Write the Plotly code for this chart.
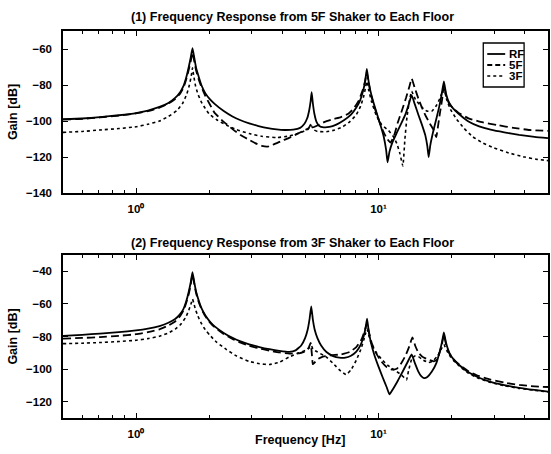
import plotly.graph_objects as go

# ---- (1) 5F shaker -> each floor : frequency [Hz], gain [dB] ----
f_rf_1 = [0.5, 0.6, 0.71, 0.85, 1.0, 1.12, 1.25, 1.36, 1.45, 1.52, 1.57, 1.61, 1.65, 1.68, 1.71, 1.74,
          1.77, 1.81, 1.86, 1.93, 2.02, 2.11, 2.3, 2.5, 2.7, 2.93, 3.2, 3.5, 3.8, 4.1, 4.45, 4.75,
          4.95, 5.08, 5.18, 5.25, 5.3, 5.36, 5.44, 5.55, 5.7, 5.95, 6.27, 6.7, 7.2, 7.7, 8.1, 8.4,
          8.65, 8.82, 8.95, 9.08, 9.25, 9.5, 9.85, 10.2, 10.5, 10.75, 10.9, 11.1, 11.4, 11.9, 12.4, 12.9,
          13.35, 13.7, 14.1, 14.6, 15.1, 15.6, 15.9, 16.1, 16.35, 16.8, 17.3, 17.8, 18.2, 18.6, 19.0, 19.5,
          20.3, 21.4, 23.5, 26, 29, 33, 38, 44, 50]
g_rf_1 = [-99, -98.6, -97.8, -96.8, -95.6, -94.2, -92.2, -90, -87.2, -84, -80.5, -76, -70, -65, -59.5, -65,
          -70.5, -75, -80, -84.5, -88, -90.5, -94.5, -97.5, -99.6, -101.3, -102.8, -104, -104.7, -105, -104.8, -103.8,
          -101.5, -98.5, -94, -89, -84, -90, -96, -100.5, -102.8, -103.5, -103.3, -102, -99.6, -96.5, -92.5, -88.5,
          -83, -77.5, -71, -77, -83, -89, -96, -102.5, -108.5, -116, -123, -117, -112, -106.5, -101.5, -96.5,
          -90.5, -85.6, -90.5, -96.5, -102, -108, -114, -120, -113.5, -106, -99, -92, -85.5, -78, -85, -89.5,
          -93, -96, -100.3, -103, -104.8, -106.3, -107.7, -108.8, -109.5]

f_5f_1 = [0.5, 0.6, 0.71, 0.85, 1.0, 1.12, 1.25, 1.36, 1.45, 1.52, 1.57, 1.61, 1.65, 1.68, 1.71, 1.74,
          1.77, 1.81, 1.86, 1.93, 2.02, 2.11, 2.3, 2.5, 2.7, 2.93, 3.1, 3.3, 3.5, 3.7, 4.0, 4.3,
          4.6, 4.9, 5.15, 5.28, 5.36, 5.6, 6.0, 6.5, 7.0, 7.5, 7.9, 8.3, 8.6, 8.8, 8.95, 9.1,
          9.3, 9.6, 10.0, 10.4, 10.8, 11.2, 11.6, 12.0, 12.5, 13.0, 13.4, 13.7, 14.1, 14.6, 15.1, 15.7,
          16.3, 16.9, 17.3, 17.55, 17.9, 18.3, 18.6, 19.0, 19.5, 20.3, 21.4, 23.5, 27, 31, 36, 42,
          50]
g_5f_1 = [-99.2, -98.8, -98, -97, -95.8, -94.5, -92.6, -90.3, -87.8, -84.8, -81.5, -77, -71.5, -67, -62, -67,
          -72, -76.5, -81, -86, -91, -95.5, -100.5, -104.5, -107.8, -110.5, -112.3, -113.8, -114.2, -113, -111, -109.2,
          -107.3, -105.5, -104, -101.5, -103.5, -102.5, -100.5, -99, -97.8, -96, -93, -88.5, -83, -78, -73, -78.5,
          -85, -92, -99, -105, -109.5, -112, -108, -101, -94, -87, -81, -76.5, -81.5, -87.5, -92.5, -97.5,
          -101.5, -105, -109, -104, -96, -88, -80, -86, -90, -93, -95.5, -98.5, -100.8, -102.3, -103.8, -105,
          -105.5]

f_3f_1 = [0.5, 0.6, 0.71, 0.85, 1.0, 1.12, 1.25, 1.36, 1.48, 1.56, 1.62, 1.66, 1.69, 1.71, 1.73, 1.76,
          1.8, 1.86, 1.93, 2.01, 2.15, 2.36, 2.6, 2.93, 3.3, 3.79, 4.3, 4.8, 5.12, 5.28, 5.4, 5.6,
          6.1, 6.6, 7.1, 7.6, 8.1, 8.45, 8.7, 8.85, 8.95, 9.1, 9.35, 9.8, 10.3, 11.0, 11.5, 11.9,
          12.25, 12.6, 12.85, 13.1, 13.4, 13.7, 14.2, 15.0, 15.8, 16.6, 17.3, 17.9, 18.6, 19.1, 19.8, 21,
          22.5, 24.5, 27, 30, 34, 40, 45, 50]
g_3f_1 = [-106.3, -105.8, -105, -104.2, -103.2, -101.8, -100, -97.5, -94, -90, -85, -80, -75, -70.5, -75, -80.5,
          -85, -89.5, -93, -96.3, -99.3, -102.3, -104.8, -107, -108.5, -109.2, -108.3, -106.3, -104.6, -102.5, -104.8, -105.8,
          -106, -105, -103.3, -100.5, -96.5, -91.5, -86, -81, -78, -82.5, -89, -97, -102, -105.3, -108.5, -112.5,
          -118, -125, -110, -98, -89, -83.5, -88, -92, -94.5, -94.5, -91.5, -87.5, -82, -88, -93.5, -99,
          -104, -108.8, -112.3, -115, -117.5, -120, -121.3, -122]

# ---- (2) 3F shaker -> each floor ----
f_rf_2 = [0.5, 0.6, 0.71, 0.85, 1.0, 1.12, 1.25, 1.36, 1.45, 1.52, 1.57, 1.61, 1.65, 1.68, 1.71, 1.74,
          1.77, 1.81, 1.86, 1.93, 2.02, 2.11, 2.3, 2.5, 2.7, 2.93, 3.2, 3.55, 3.9, 4.29, 4.55, 4.8,
          4.98, 5.1, 5.2, 5.28, 5.36, 5.45, 5.6, 5.8, 6.1, 6.5, 6.9, 7.3, 7.7, 8.1, 8.45, 8.7,
          8.85, 8.97, 9.1, 9.3, 9.6, 10.0, 10.4, 10.8, 11.1, 11.5, 12.0, 12.6, 13.2, 13.7, 14.1, 14.6,
          15.0, 15.4, 15.9, 16.6, 17.3, 17.9, 18.3, 18.6, 19.0, 19.6, 20.4, 21.5, 23.5, 26, 29, 33,
          38, 44, 50]
g_rf_2 = [-79.6, -79, -78.2, -77.3, -76.3, -75.2, -73.6, -71.6, -69.3, -66.3, -63, -58.5, -52.5, -47, -40.5, -47,
          -52.5, -57.5, -62.5, -67, -71, -73.8, -77.8, -80.8, -83, -84.8, -86.3, -87.8, -88.8, -89.4, -88.5, -85.5,
          -81, -76, -69, -61.5, -69.5, -75.5, -81, -85.5, -89.5, -92, -93, -93, -91.8, -89.3, -85, -79.5,
          -74.5, -69, -76, -83.5, -91, -98.5, -105, -111, -115.5, -112, -107.3, -101.3, -95.5, -91, -96, -101.5,
          -104.3, -105.5, -104.8, -101.5, -96.5, -89, -83, -77.5, -84, -90, -94, -97.5, -102, -105.3, -107.8, -109.8,
          -111.5, -112.8, -113.8]

f_5f_2 = [0.5, 0.6, 0.71, 0.85, 1.0, 1.12, 1.25, 1.36, 1.45, 1.52, 1.57, 1.61, 1.65, 1.68, 1.71, 1.74,
          1.77, 1.81, 1.86, 1.93, 2.02, 2.11, 2.3, 2.5, 2.7, 2.93, 3.2, 3.55, 3.9, 4.29, 4.7, 5.0,
          5.15, 5.25, 5.32, 5.36, 5.45, 5.6, 5.9, 6.4, 7.0, 7.6, 8.1, 8.5, 8.75, 8.97, 9.15, 9.4,
          9.8, 10.3, 10.8, 11.4, 11.9, 12.4, 12.9, 13.4, 13.8, 14.2, 14.6, 15.2, 16.1, 16.9, 17.5, 17.9,
          18.3, 18.6, 19.0, 19.6, 20.4, 21.5, 23.5, 26, 29, 33, 38, 44, 50]
g_5f_2 = [-81.3, -80.9, -80.4, -79.6, -78.6, -77.3, -75.6, -73.3, -70.8, -67.5, -64, -59.5, -54, -48.5, -42, -48,
          -53.5, -58.5, -63, -67.5, -71.5, -74.3, -78.5, -81.5, -83.8, -85.7, -87.2, -88.7, -89.8, -90.5, -90.3, -89,
          -87, -84, -92, -97, -96, -94, -92.3, -91.5, -91, -89.5, -86.5, -82, -77, -72, -78, -84.5,
          -90.5, -95.5, -98.7, -100.3, -99.8, -96.5, -92, -86, -80.5, -86, -89.8, -92.5, -94.3, -95.2, -94, -89.5,
          -84, -79, -85, -90.5, -94, -97.2, -101.3, -104.3, -106.5, -108.3, -109.7, -110.6, -111]

f_3f_2 = [0.5, 0.6, 0.71, 0.85, 1.0, 1.12, 1.25, 1.36, 1.45, 1.53, 1.6, 1.65, 1.69, 1.71, 1.73, 1.76,
          1.8, 1.86, 1.93, 2.01, 2.15, 2.36, 2.6, 2.93, 3.23, 3.55, 3.9, 4.29, 4.7, 5.0, 5.18, 5.28,
          5.38, 5.6, 6.08, 6.5, 6.9, 7.35, 7.7, 8.1, 8.45, 8.7, 8.85, 8.97, 9.15, 9.4, 9.8, 10.3,
          10.9, 11.6, 12.4, 12.8, 13.05, 13.3, 13.7, 14.1, 14.6, 15.3, 16.1, 16.8, 17.5, 18.1, 18.6, 19.1,
          19.8, 20.6, 21.8, 23.5, 26, 29, 33, 38, 44, 50]
g_3f_2 = [-84.4, -84.1, -83.7, -83.1, -82.3, -81.3, -79.8, -77.8, -75.5, -72.5, -68.5, -64, -59.5, -57, -59.5, -63.5,
          -67.5, -72, -75.8, -79, -83.5, -88, -92, -95.3, -96.7, -97.2, -95.8, -92.5, -90, -88.5, -87, -85.5,
          -88, -89.5, -92.5, -96.5, -100.5, -103.4, -100.5, -94.5, -88, -82, -78, -75.5, -80, -85.5, -90, -94,
          -97.5, -100.5, -103.4, -105.5, -106.5, -101, -94, -92, -92.3, -94.5, -96, -95, -92, -88, -85, -88.5,
          -92.5, -95.5, -98.8, -102.5, -105.8, -108.2, -110.2, -111.8, -113, -114]

series_names = ["RF", "5F", "3F"]
dash_styles = ["solid", "8px,4px", "dot"]
key_dashes = ["solid", "5px,3px", "dot"]
widths = [1.8, 1.8, 1.6]

panel_titles = ["(1) Frequency Response from 5F Shaker to Each Floor",
                "(2) Frequency Response from 3F Shaker to Each Floor"]
y_title = "Gain [dB]"
x_title = "Frequency [Hz]"
y_ranges = [[-140, -50], [-130, -30]]
y_ticks = [[-140, -120, -100, -80, -60], [-120, -100, -80, -60, -40]]
x_tickvals = [1, 10]
x_ticktext = ["10\u2070", "10\u00b9"]
x_minor = [0.5, 0.6, 0.7, 0.8, 0.9, 2, 3, 4, 5, 6, 7, 8, 9, 20, 30, 40, 50]

FONT = "Liberation Sans"
title_font = dict(family=FONT, size=12.5, color="black", weight="bold")

fig = go.Figure()

panels = [
    [(f_rf_1, g_rf_1), (f_5f_1, g_5f_1), (f_3f_1, g_3f_1)],
    [(f_rf_2, g_rf_2), (f_5f_2, g_5f_2), (f_3f_2, g_3f_2)],
]
for p, panel in enumerate(panels):
    xa = "x" if p == 0 else "x2"
    ya = "y" if p == 0 else "y2"
    for (f, g), name, dash, w in zip(panel, series_names, dash_styles, widths):
        fig.add_trace(go.Scatter(x=f, y=g, mode="lines", name=name, xaxis=xa, yaxis=ya,
                                 line=dict(color="black", width=w, dash=dash, shape="spline",
                                           smoothing=0.4),
                                 showlegend=False))

axis_common = dict(showline=True, linecolor="black", linewidth=1.5, mirror="allticks",
                   ticks="inside", ticklen=5, tickcolor="black", showgrid=False, zeroline=False,
                   ticklabelstandoff=7,
                   tickfont=dict(family=FONT, size=11.5, color="black", weight="bold"))

x_common = dict(axis_common, type="log", range=[-0.30103, 1.69897], tickvals=x_tickvals,
                ticktext=x_ticktext, ticklabelstandoff=4,
                minor=dict(tickvals=x_minor, ticks="inside", ticklen=3, tickcolor="black"))

top_dom = [0.5814, 1.0]
bot_dom = [0.0, 0.4212]

fig.update_layout(
    width=551, height=454,
    margin=dict(l=63, r=1, t=31, b=36),
    paper_bgcolor="white", plot_bgcolor="white",
    xaxis=dict(x_common, domain=[0, 1], anchor="y"),
    yaxis=dict(axis_common, domain=top_dom, range=y_ranges[0], tickvals=y_ticks[0], anchor="x",
               title=dict(text=y_title, font=title_font, standoff=6)),
    xaxis2=dict(x_common, domain=[0, 1], anchor="y2"),
    yaxis2=dict(axis_common, domain=bot_dom, range=y_ranges[1], tickvals=y_ticks[1], anchor="x2",
                title=dict(text=y_title, font=title_font, standoff=6)),
    showlegend=False,
)

# legend key in the upper panel (pixel positions converted to paper units)
def px_x(px):
    return (px - 63) / 487.0

def px_y(py):
    return (418 - py) / 387.0

annotations = [
    dict(text=panel_titles[0], x=px_x(293), y=px_y(17), xref="paper", yref="paper",
         showarrow=False, font=title_font, xanchor="center", yanchor="middle"),
    dict(text=panel_titles[1], x=px_x(293), y=px_y(243), xref="paper", yref="paper",
         showarrow=False, font=title_font, xanchor="center", yanchor="middle"),
    dict(text=x_title, x=px_x(301), y=px_y(440), xref="paper", yref="paper",
         showarrow=False, font=title_font, xanchor="center", yanchor="middle"),
]

shapes = [dict(type="rect", xref="paper", yref="paper",
               x0=px_x(485), x1=px_x(526), y0=px_y(87), y1=px_y(43),
               line=dict(color="black", width=1.3), fillcolor="white", layer="above")]
rows_y = [54, 65, 76]
for name, dash, w, ry in zip(series_names, key_dashes, widths, rows_y):
    shapes.append(dict(type="line", xref="paper", yref="paper",
                       x0=px_x(489), x1=px_x(507), y0=px_y(ry), y1=px_y(ry),
                       line=dict(color="black", width=w, dash=dash), layer="above"))
    annotations.append(dict(text=name, x=px_x(509), y=px_y(ry), xref="paper", yref="paper",
                            showarrow=False,
                            font=dict(family=FONT, size=11.5, color="black", weight="bold"),
                            xanchor="left", yanchor="middle"))

fig.update_layout(annotations=annotations, shapes=shapes)

fig.write_html("out.html")
